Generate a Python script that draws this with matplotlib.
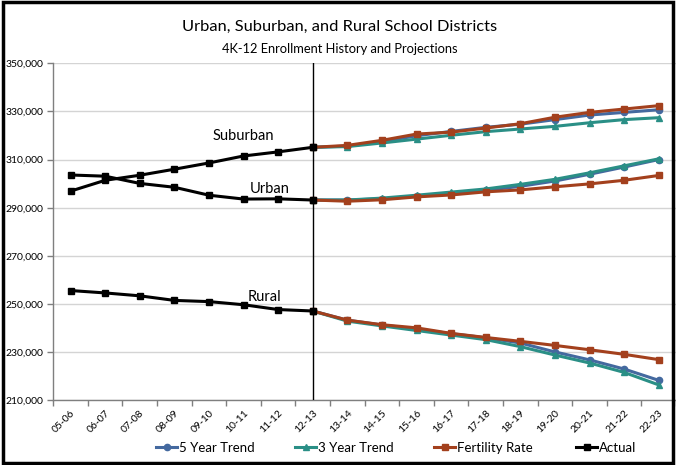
import matplotlib
matplotlib.use("Agg")
import matplotlib.pyplot as plt
from matplotlib.patches import Rectangle
from matplotlib.ticker import FuncFormatter, FixedLocator

plt.rcParams.update({
    "font.family": ["Lato", "DejaVu Sans"],
    "axes.linewidth": 1.0,
})

# school years on the category axis
years = ["05-06", "06-07", "07-08", "08-09", "09-10", "10-11", "11-12", "12-13",
         "13-14", "14-15", "15-16", "16-17", "17-18", "18-19", "19-20", "20-21",
         "21-22", "22-23"]

# actual enrollment 05-06 .. 12-13
suburban_actual = [296900, 301400, 303500, 306000, 308600, 311500, 313200, 315100]
urban_actual = [303600, 303100, 300100, 298500, 295200, 293600, 293700, 293200]
rural_actual = [255600, 254600, 253400, 251500, 251000, 249700, 247700, 247100]

# projections 13-14 .. 22-23 (each joined to the 12-13 actual)
suburban_5yr = [315600, 317400, 319900, 321700, 323400, 324700, 326600, 328500, 329600, 330700]
suburban_3yr = [315400, 316900, 318500, 320100, 321600, 322700, 323800, 325300, 326600, 327400]
suburban_fert = [315900, 318000, 320600, 321400, 323100, 324900, 327600, 329600, 331000, 332400]

urban_5yr = [293200, 293700, 294700, 295900, 297200, 298900, 301100, 303900, 306900, 310000]
urban_3yr = [293200, 294000, 295200, 296500, 297800, 299700, 301800, 304500, 307400, 310300]
urban_fert = [292700, 293300, 294500, 295300, 296600, 297400, 298700, 299900, 301400, 303400]

rural_5yr = [243300, 241300, 239600, 237700, 236000, 233800, 230100, 226800, 223000, 218300]
rural_3yr = [242900, 240900, 239000, 237100, 235200, 232300, 228800, 225500, 221600, 216400]
rural_fert = [243300, 241400, 240100, 237800, 236100, 234500, 232800, 231000, 229100, 226900]

region_labels = ["Suburban", "Urban", "Rural"]
series_labels = ["5 Year Trend", "3 Year Trend", "Fertility Rate", "Actual"]

C_5YR = "#44699F"
C_3YR = "#2A8F86"
C_FERT = "#A3401D"
C_ACT = "#000000"

fig = plt.figure(figsize=(6.76, 4.65), dpi=100)
ax = fig.add_axes([53.3 / 676, 1 - 400.3 / 465, 1 - 53.3 / 676, (400.3 - 63.3) / 465])

n_act = len(suburban_actual)
x_act = list(range(n_act))
x_proj = list(range(n_act - 1, len(years)))

groups = [
    (suburban_actual, suburban_5yr, suburban_3yr, suburban_fert),
    (urban_actual, urban_5yr, urban_3yr, urban_fert),
    (rural_actual, rural_5yr, rural_3yr, rural_fert),
]

handles = []
for actual, p5, p3, pf in groups:
    start = actual[-1]
    h5, = ax.plot(x_proj, [start] + p5, color=C_5YR, lw=2.2, marker="o", ms=4.5, zorder=3)
    h3, = ax.plot(x_proj, [start] + p3, color=C_3YR, lw=2.2, marker="^", ms=4.5, zorder=3)
    hf, = ax.plot(x_proj, [start] + pf, color=C_FERT, lw=2.2, marker="s", ms=4.5, zorder=4)
    ha, = ax.plot(x_act, actual, color=C_ACT, lw=2.2, marker="s", ms=5, zorder=5)
    handles = [h5, h3, hf, ha]

# divider between history and projections
ax.axvline(n_act - 1, color="black", lw=1.0, zorder=6)

# region names next to the curves
ax.text(5.0, 319800, region_labels[0], ha="center", va="center", fontsize=10.5)
ax.text(5.75, 297800, region_labels[1], ha="center", va="center", fontsize=10.5)
ax.text(5.6, 253000, region_labels[2], ha="center", va="center", fontsize=10.5)

ax.set_xlim(-0.5, len(years) - 0.5)
ax.set_ylim(210000, 350000)
ax.set_yticks(range(210000, 350001, 20000))
ax.yaxis.set_major_formatter(FuncFormatter(lambda v, p: f"{int(v):,}"))
ax.grid(axis="y", color="#D4D4D4", lw=1.0, zorder=0)
ax.set_axisbelow(True)

ax.set_xticks(range(len(years)))
ax.set_xticklabels(years, rotation=45, ha="right", rotation_mode="anchor", fontsize=7.5)
ax.xaxis.set_minor_locator(FixedLocator([i - 0.5 for i in range(len(years) + 1)]))
ax.tick_params(axis="x", which="major", length=0, pad=6)
ax.tick_params(axis="x", which="minor", length=4, color="#7F7F7F", width=1.0)
ax.tick_params(axis="y", length=4, color="#7F7F7F", width=1.0, labelsize=7.5, pad=3)

for s in ["top", "right"]:
    ax.spines[s].set_visible(False)
ax.spines["left"].set_color("#7F7F7F")
ax.spines["bottom"].set_color("#7F7F7F")

# legend entries spaced evenly along the bottom
legend_x = [156, 295, 434, 576]
for h, lab, lx in zip(handles, series_labels, legend_x):
    fig.legend([h], [lab], loc="center left", bbox_to_anchor=(lx / 676, 1 - 448 / 465),
               frameon=False, fontsize=9.5, handlelength=1.6, handletextpad=0.15,
               borderpad=0, borderaxespad=0)

fig.text(0.503, 1 - 26.5 / 465, "Urban, Suburban, and Rural School Districts",
         ha="center", va="center", fontsize=11.8)
fig.text(0.503, 1 - 49 / 465, "4K-12 Enrollment History and Projections",
         ha="center", va="center", fontsize=9.3)

fig.patches.append(Rectangle((0.004, 0.004), 0.992, 0.992, transform=fig.transFigure,
                             fill=False, ec="black", lw=2.5))

fig.savefig("out.png", dpi=100)
